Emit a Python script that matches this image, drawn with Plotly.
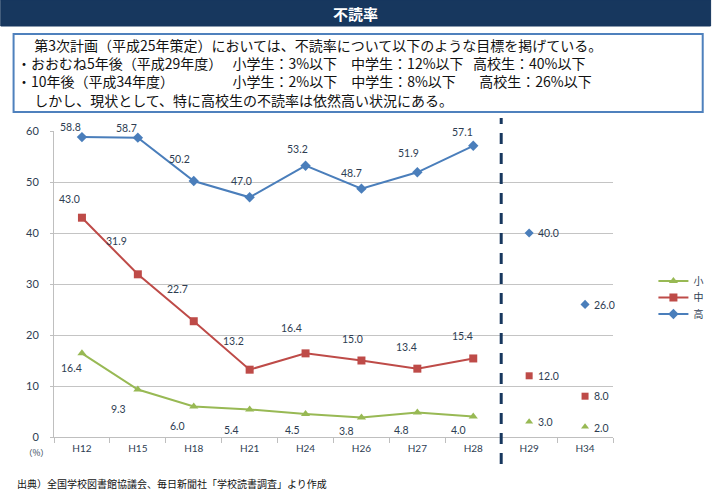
import plotly.graph_objects as go

# ---------------- data ----------------
categories = ["H12", "H15", "H18", "H21", "H24", "H26", "H27", "H28", "H29", "H34"]
survey_years = ["H12", "H15", "H18", "H21", "H24", "H26", "H27", "H28"]
target_years = ["H29", "H34"]

high_school = [58.8, 58.7, 50.2, 47.0, 53.2, 48.7, 51.9, 57.1]
middle_school = [43.0, 31.9, 22.7, 13.2, 16.4, 15.0, 13.4, 15.4]
elementary = [16.4, 9.3, 6.0, 5.4, 4.5, 3.8, 4.8, 4.0]

high_target = [40.0, 26.0]
middle_target = [12.0, 8.0]
elementary_target = [3.0, 2.0]

series_names = ["小", "中", "高"]

title_text = "不読率"
box_line1 = "第3次計画（平成25年策定）においては、不読率について以下のような目標を掲げている。"
box_row2 = ["・おおむね5年後（平成29年度）", "小学生：3%以下", "中学生：12%以下", "高校生：40%以下"]
box_row3 = ["・10年後（平成34年度）", "小学生：2%以下", "中学生：8%以下", "高校生：26%以下"]
box_line4 = "しかし、現状として、特に高校生の不読率は依然高い状況にある。"
source_text = "出典）全国学校図書館協議会、毎日新聞社「学校読書調査」より作成"
unit_text = "（%）"

# ---------------- style ----------------
C_HIGH = "#4A7EBB"
C_MID = "#BE4B48"
C_ELEM = "#98B954"
C_NAVY = "#17375E"
C_TEXT = "#2E3D52"
C_GRID = "#C4C4C4"
NUM_FONT = "Lato"
JP_FONT = "Noto Sans CJK JP"

# label offsets in pixels (dx right, dy down)
off_high = [(-11, -10), (-11, -10), (-14, -22), (-8, -16), (-8, -17), (-10, -16), (-9, -19), (-11, -14)]
off_mid = [(-12, -19), (-21, -33), (-16, -32), (-16, -29), (-14, -25), (-9, -22), (-11, -22), (-11, -22)]
off_elem = [(-10, 15), (-19, 19), (-16, 20), (-18, 21), (-13, 16), (-15, 13), (-16, 17), (-15, 13)]
off_high_t = [(19, 0), (19, 1)]
off_mid_t = [(19, 0), (16, 0)]
off_elem_t = [(16, 0), (16, 1)]

W_FIG, H_FIG = 720, 498
L, R, T, B = 54, 621, 131, 437


def px(x):
    return (x - L) / (R - L)


def py(y):
    return (B - y) / (B - T)


fig = go.Figure()

fig.add_trace(go.Scatter(x=survey_years, y=elementary, name=series_names[0], mode="lines+markers",
                         line=dict(color=C_ELEM, width=2), legend="legend",
                         marker=dict(symbol="triangle-up", size=8, color=C_ELEM)))
fig.add_trace(go.Scatter(x=survey_years, y=middle_school, name=series_names[1], mode="lines+markers",
                         line=dict(color=C_MID, width=2), legend="legend2",
                         marker=dict(symbol="square", size=8, color=C_MID)))
fig.add_trace(go.Scatter(x=survey_years, y=high_school, name=series_names[2], mode="lines+markers",
                         line=dict(color=C_HIGH, width=2), legend="legend3",
                         marker=dict(symbol="diamond", size=8, color=C_HIGH)))

fig.add_trace(go.Scatter(x=target_years, y=elementary_target, mode="markers", showlegend=False,
                         marker=dict(symbol="triangle-up", size=7, color=C_ELEM)))
fig.add_trace(go.Scatter(x=target_years, y=middle_target, mode="markers", showlegend=False,
                         marker=dict(symbol="square", size=7, color=C_MID)))
fig.add_trace(go.Scatter(x=target_years, y=high_target, mode="markers", showlegend=False,
                         marker=dict(symbol="diamond", size=7, color=C_HIGH)))

annotations = []


def add_labels(xs, ys, offs):
    for x, y, (dx, dy) in zip(xs, ys, offs):
        annotations.append(dict(x=x, y=y, xref="x", yref="y", text=f"{y:.1f}", showarrow=False,
                                xshift=dx, yshift=-dy, xanchor="center", yanchor="middle",
                                font=dict(family=NUM_FONT, size=10.5, color=C_TEXT)))


add_labels(survey_years, high_school, off_high)
add_labels(survey_years, middle_school, off_mid)
add_labels(survey_years, elementary, off_elem)
add_labels(target_years, high_target, off_high_t)
add_labels(target_years, middle_target, off_mid_t)
add_labels(target_years, elementary_target, off_elem_t)

shapes = []
# title bar
shapes.append(dict(type="rect", xref="paper", yref="paper", x0=px(0), x1=px(720), y0=py(26), y1=py(0),
                   fillcolor=C_NAVY, line=dict(color=C_NAVY, width=1), layer="below"))
# text box
shapes.append(dict(type="rect", xref="paper", yref="paper", x0=px(13), x1=px(712), y0=py(112), y1=py(34),
                   fillcolor="white", line=dict(color="#4F81BD", width=2)))
# dashed separator between survey and target years
shapes.append(dict(type="line", xref="x", yref="paper", x0=7.5, x1=7.5, y0=py(464), y1=py(118),
                   line=dict(color=C_NAVY, width=3, dash="11px,9px")))

annotations.append(dict(x=px(360), y=py(13), xref="paper", yref="paper", text=f"<b>{title_text}</b>",
                        showarrow=False, xanchor="center", yanchor="middle",
                        font=dict(family=JP_FONT, size=15, color="white")))

IS = "\u3000"   # ideographic space
NB = "\u00a0"   # non-breaking space
row2 = box_row2[0] + IS + NB + box_row2[1] + IS + box_row2[2] + NB * 3 + box_row2[3]
row3 = box_row3[0] + IS * 4 + NB * 3 + box_row3[1] + IS + box_row3[2] + IS + NB * 3 + box_row3[3]
box_text = "<br>".join([IS + NB + box_line1, row2, row3, IS + NB + box_line4])
annotations.append(dict(x=px(14), y=py(72.5), xref="paper", yref="paper", text=box_text, showarrow=False,
                        xanchor="left", yanchor="middle", align="left",
                        font=dict(family=JP_FONT, size=14, color="#111111")))

annotations.append(dict(x=px(36), y=py(452), xref="paper", yref="paper", text=unit_text, showarrow=False,
                        xanchor="center", yanchor="middle", font=dict(family=JP_FONT, size=8.5, color=C_TEXT)))
annotations.append(dict(x=px(14), y=py(483), xref="paper", yref="paper", text=source_text, showarrow=False,
                        xanchor="left", yanchor="middle", font=dict(family=JP_FONT, size=10, color="#111111")))

legend_common = dict(xanchor="left", yanchor="middle", bgcolor="rgba(0,0,0,0)",
                     font=dict(family=JP_FONT, size=10, color=C_TEXT), itemwidth=30)

fig.update_layout(
    width=W_FIG, height=H_FIG,
    margin=dict(l=L, r=W_FIG - R, t=T, b=H_FIG - B, pad=0),
    paper_bgcolor="white", plot_bgcolor="white",
    showlegend=True,
    legend=dict(x=px(662), y=py(281), **legend_common),
    legend2=dict(x=px(662), y=py(297.5), **legend_common),
    legend3=dict(x=px(662), y=py(314), **legend_common),
    shapes=shapes,
    annotations=annotations,
    xaxis=dict(type="category", categoryorder="array", categoryarray=categories, range=[-0.5, 9.5],
               showgrid=False, showline=True, linecolor="#BFBFBF", linewidth=1,
               ticks="outside", tickson="boundaries", ticklen=5, tickcolor="#BFBFBF",
               ticklabelstandoff=2,
               tickfont=dict(family=NUM_FONT, size=10, color=C_TEXT), zeroline=False),
    yaxis=dict(range=[0, 60], dtick=10, showgrid=True, gridcolor=C_GRID, gridwidth=1,
               showline=True, linecolor="#BFBFBF", linewidth=1, ticks="outside", ticklen=3,
               tickcolor="#BFBFBF", ticklabelstandoff=9, zeroline=False,
               tickfont=dict(family=NUM_FONT, size=11, color=C_TEXT)),
)

fig.write_html("out.html")
